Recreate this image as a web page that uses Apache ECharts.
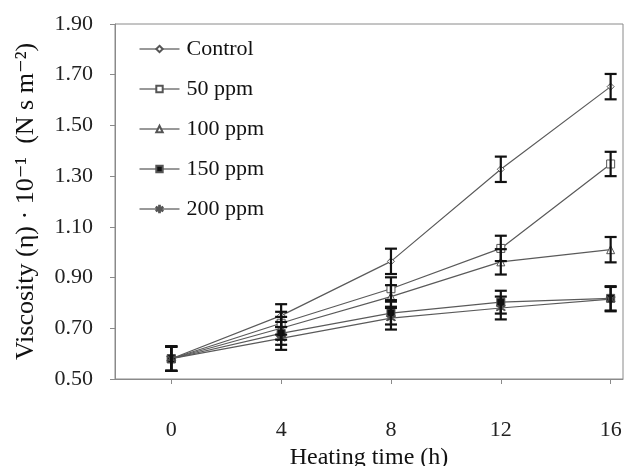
<!DOCTYPE html>
<html>
<head>
<meta charset="utf-8">
<script src="https://cdn.jsdelivr.net/npm/echarts@6/dist/echarts.min.js"></script>
<style>
  html, body { margin: 0; padding: 0; background: #fff; }
  #chart { width: 626px; height: 466px; }
</style>
</head>
<body>
<div id="chart"></div>
<script>
// heating time (h)
var hours = [0, 4, 8, 12, 16];
var yTicks = [0.5, 0.7, 0.9, 1.1, 1.3, 1.5, 1.7, 1.9];

var control = [0.58, 0.75, 0.964, 1.327, 1.653];
var ppm50 = [0.58, 0.72, 0.856, 1.015, 1.348];
var ppm100 = [0.58, 0.70, 0.825, 0.962, 1.010];
var ppm150 = [0.58, 0.68, 0.760, 0.803, 0.818];
var ppm200 = [0.58, 0.66, 0.740, 0.780, 0.815];

var errControl = [0.048, 0.045, 0.05, 0.05, 0.05];
var err50 = [0.048, 0.045, 0.045, 0.05, 0.048];
var err100 = [0.048, 0.045, 0.045, 0.05, 0.05];
var err150 = [0.048, 0.045, 0.045, 0.045, 0.048];
var err200 = [0.048, 0.045, 0.045, 0.045, 0.048];

var names = ['Control', '50 ppm', '100 ppm', '150 ppm', '200 ppm'];

var myChart = echarts.init(document.getElementById('chart'));

var serif = '"Liberation Serif", "DejaVu Serif", serif';
var asterisk = 'path://M4.4,0H5.6V10H4.4Z M0,2.9L0.6,1.9L10,7.1L9.4,8.1Z M0,7.1L0.6,8.1L10,2.9L9.4,1.9Z';

var marks = [
  { data: control, err: errControl, symbol: 'diamond', size: 7, fill: '#fff' },
  { data: ppm50, err: err50, symbol: 'rect', size: 8, fill: '#fff' },
  { data: ppm100, err: err100, symbol: 'triangle', size: 8, fill: '#fff' },
  { data: ppm150, err: err150, symbol: 'rect', size: 8, fill: '#111' },
  { data: ppm200, err: err200, symbol: asterisk, size: 9, fill: '#222' }
];

function pairs(vals) {
  return hours.map(function (h, i) { return [h, vals[i]]; });
}

function errRows(vals, errs) {
  return hours.map(function (h, i) { return [h, vals[i] - errs[i], vals[i] + errs[i]]; });
}

function drawBar(params, api) {
  var x = api.value(0);
  var lo = api.coord([x, api.value(1)]);
  var hi = api.coord([x, api.value(2)]);
  var w = 6;
  var st = { stroke: '#111', lineWidth: 2.2 };
  return {
    type: 'group',
    children: [
      { type: 'line', shape: { x1: lo[0], y1: lo[1], x2: hi[0], y2: hi[1] }, style: st },
      { type: 'line', shape: { x1: lo[0] - w, y1: lo[1], x2: lo[0] + w, y2: lo[1] }, style: st },
      { type: 'line', shape: { x1: hi[0] - w, y1: hi[1], x2: hi[0] + w, y2: hi[1] }, style: st }
    ]
  };
}

var series = [];
marks.forEach(function (m, i) {
  series.push({
    name: names[i],
    type: 'line',
    data: pairs(m.data),
    symbol: m.symbol,
    symbolSize: m.size,
    showAllSymbol: true,
    lineStyle: { color: '#5a5a5a', width: 1.2 },
    itemStyle: { color: m.fill, borderColor: '#555', borderWidth: 1 },
    z: 3
  });
});
marks.forEach(function (m, i) {
  series.push({
    type: 'custom',
    renderItem: drawBar,
    data: errRows(m.data, m.err),
    z: 4,
    silent: true
  });
});

var option = {
  animation: false,
  backgroundColor: '#fff',
  grid: {
    left: 115, right: 3, top: 24, bottom: 87,
    outerBoundsMode: 'none',
    show: true, borderColor: '#8a8a8a', borderWidth: 1
  },
  legend: {
    data: names,
    orient: 'vertical',
    left: 134,
    top: 33,
    itemWidth: 40,
    itemHeight: 8,
    itemGap: 18,
    lineStyle: { color: '#333', width: 1 },
    textStyle: { fontFamily: serif, fontSize: 22, color: '#111', padding: [0, 0, 0, 2] }
  },
  xAxis: {
    type: 'value',
    min: -2.05,
    max: 16.45,
    name: 'Heating time (h)',
    nameLocation: 'middle',
    nameGap: 66,
    nameTextStyle: { fontFamily: serif, fontSize: 24, color: '#111' },
    axisLine: { onZero: false, lineStyle: { color: '#8a8a8a' } },
    axisTick: { show: true, inside: false, length: 5, customValues: hours, lineStyle: { color: '#8a8a8a' } },
    axisLabel: { customValues: hours, margin: 40, fontFamily: serif, fontSize: 22, color: '#222' },
    splitLine: { show: false }
  },
  yAxis: {
    type: 'value',
    min: 0.5,
    max: 1.9,
    name: 'Viscosity (\u03b7) \u00b7 10\u207b\u00b9  (N s m\u207b\u00b2)',
    nameLocation: 'middle',
    nameGap: 76,
    nameTextStyle: { fontFamily: serif, fontSize: 26, color: '#111' },
    axisLine: { show: true, onZero: false, lineStyle: { color: '#8a8a8a' } },
    axisTick: { show: true, inside: false, length: 5, customValues: yTicks, lineStyle: { color: '#8a8a8a' } },
    axisLabel: {
      customValues: yTicks,
      margin: 22,
      fontFamily: serif,
      fontSize: 22,
      color: '#222',
      formatter: function (v) { return v.toFixed(2); }
    },
    splitLine: { show: false }
  },
  series: series
};

myChart.setOption(option);
</script>
</body>
</html>
